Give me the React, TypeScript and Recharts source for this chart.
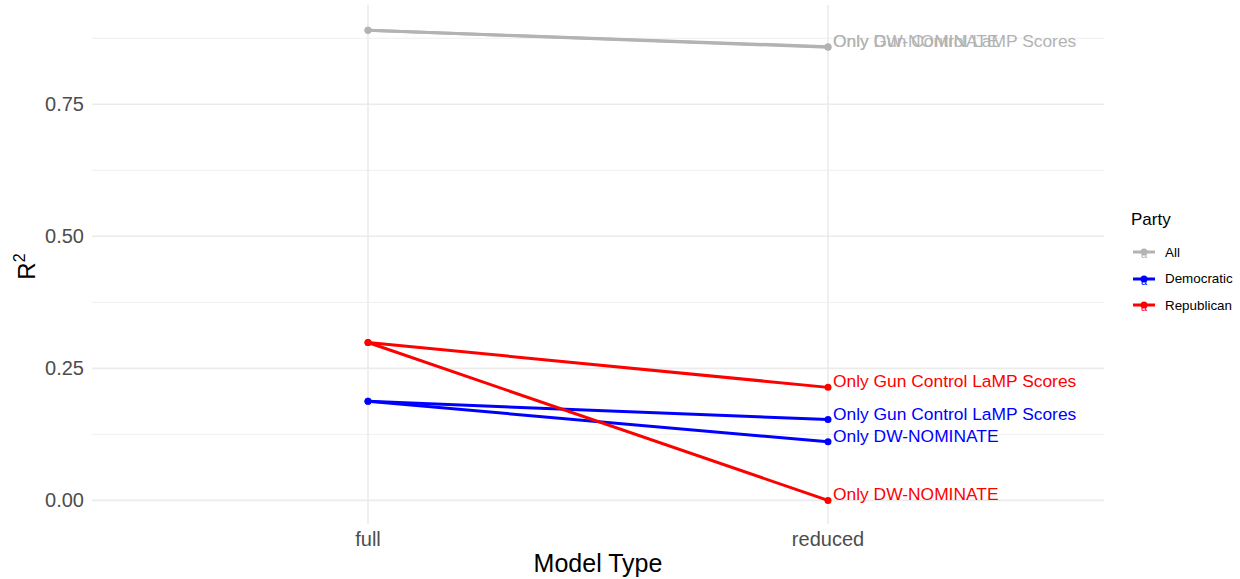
import React from "react";
import {
  CartesianGrid,
  LabelList,
  Line,
  LineChart,
  XAxis,
  YAxis,
} from "recharts";

const categories = ["full", "reduced"];

// R^2 per model type, one array per party / reduced-model variant
const allDw = [0.89, 0.858];
const allGun = [0.89, 0.859];
const demDw = [0.1875, 0.111];
const demGun = [0.1875, 0.153];
const repDw = [0.299, 0.0];
const repGun = [0.299, 0.214];

const yTicks = [0, 0.25, 0.5, 0.75];
const yMinor = [0.125, 0.375, 0.625, 0.875];

const parties = [
  { name: "All", color: "#b3b3b3" },
  { name: "Democratic", color: "#0000ff" },
  { name: "Republican", color: "#ff0000" },
];

const series = [
  { key: "allDw", values: allDw, label: "Only DW-NOMINATE", color: "#b3b3b3" },
  { key: "allGun", values: allGun, label: "Only Gun Control LaMP Scores", color: "#b3b3b3" },
  { key: "demDw", values: demDw, label: "Only DW-NOMINATE", color: "#0000ff" },
  { key: "demGun", values: demGun, label: "Only Gun Control LaMP Scores", color: "#0000ff" },
  { key: "repDw", values: repDw, label: "Only DW-NOMINATE", color: "#ff0000" },
  { key: "repGun", values: repGun, label: "Only Gun Control LaMP Scores", color: "#ff0000" },
];

const data = categories.map((c, i) => {
  const row: Record<string, number | string> = { x: i + 1, cat: c };
  series.forEach((s) => {
    row[s.key] = s.values[i];
  });
  return row;
});

const FONT = "'Liberation Sans', Arial, Helvetica, sans-serif";

function YTitle({ viewBox }: any) {
  const bx = 35;
  const cy = viewBox.y + viewBox.height / 2 + 2;
  return (
    <text
      x={bx}
      y={cy}
      transform={`rotate(-90, ${bx}, ${cy})`}
      textAnchor="middle"
      fontSize={24}
      fill="#000"
      fontFamily={FONT}
    >
      R<tspan dy={-10} fontSize={16}>2</tspan>
    </text>
  );
}

function XTitle({ viewBox }: any) {
  return (
    <text
      x={viewBox.x + viewBox.width / 2}
      y={572}
      textAnchor="middle"
      fontSize={25}
      fill="#000"
      fontFamily={FONT}
    >
      Model Type
    </text>
  );
}

function PartyLegend() {
  return (
    <div
      style={{
        position: "absolute",
        left: 1117,
        top: 210,
        fontFamily: FONT,
        color: "#000",
      }}
    >
      <div style={{ fontSize: 17, marginBottom: 9, paddingLeft: 14 }}>Party</div>
      {parties.map((p) => (
        <div key={p.name} style={{ display: "flex", alignItems: "center", height: 26.5 }}>
          <svg width={40} height={20}>
            <line x1={16} x2={38} y1={10} y2={10} stroke={p.color} strokeWidth={3} />
            <circle cx={27} cy={10} r={3.5} fill={p.color} />
            <text x={27} y={16} textAnchor="middle" fontSize={11} fill={p.color} fontFamily={FONT}>
              a
            </text>
          </svg>
          <span style={{ fontSize: 13.4, marginLeft: 8 }}>{p.name}</span>
        </div>
      ))}
    </div>
  );
}

export default function App() {
  return (
    <div style={{ position: "absolute", left: 0, top: 0, width: 1240, height: 579, background: "#fff" }}>
      <LineChart
        width={1240}
        height={579}
        data={data}
        margin={{ top: 5, right: 136, bottom: 0, left: 0 }}
        style={{ fontFamily: FONT }}
      >
        <CartesianGrid
          horizontalValues={yMinor}
          vertical={false}
          stroke="#ebebeb"
          strokeWidth={0.8}
        />
        <CartesianGrid
          horizontalValues={yTicks}
          verticalValues={[1, 2]}
          stroke="#ebebeb"
          strokeWidth={1.6}
        />
        <XAxis
          dataKey="x"
          type="number"
          domain={[0.4, 2.6]}
          ticks={[1, 2]}
          tickFormatter={(v) => categories[v - 1]}
          allowDataOverflow
          height={55}
          tickLine={false}
          axisLine={false}
          tickMargin={2}
          tick={{ fill: "#4d4d4d", fontSize: 20 }}
          label={<XTitle />}
        />
        <YAxis
          type="number"
          domain={[-0.0447, 0.938]}
          ticks={yTicks}
          allowDataOverflow
          width={92}
          tickLine={false}
          axisLine={false}
          tickFormatter={(v) => v.toFixed(2)}
          tick={{ fill: "#4d4d4d", fontSize: 20 }}
          label={<YTitle />}
        />
        {series.map((s) => (
          <Line
            key={s.key}
            dataKey={s.key}
            stroke={s.color}
            strokeWidth={3}
            dot={{ r: 3.5, fill: s.color, stroke: s.color, strokeWidth: 0 }}
            activeDot={false}
            isAnimationActive={false}
          >
            <LabelList
              dataKey={s.key}
              content={(p: any) =>
                p.index === 1 ? (
                  <text
                    x={p.x + 5}
                    y={p.y}
                    fontSize={17.4}
                    fill={s.color}
                    fontFamily={FONT}
                  >
                    {s.label}
                  </text>
                ) : null
              }
            />
          </Line>
        ))}
      </LineChart>
      <PartyLegend />
    </div>
  );
}
